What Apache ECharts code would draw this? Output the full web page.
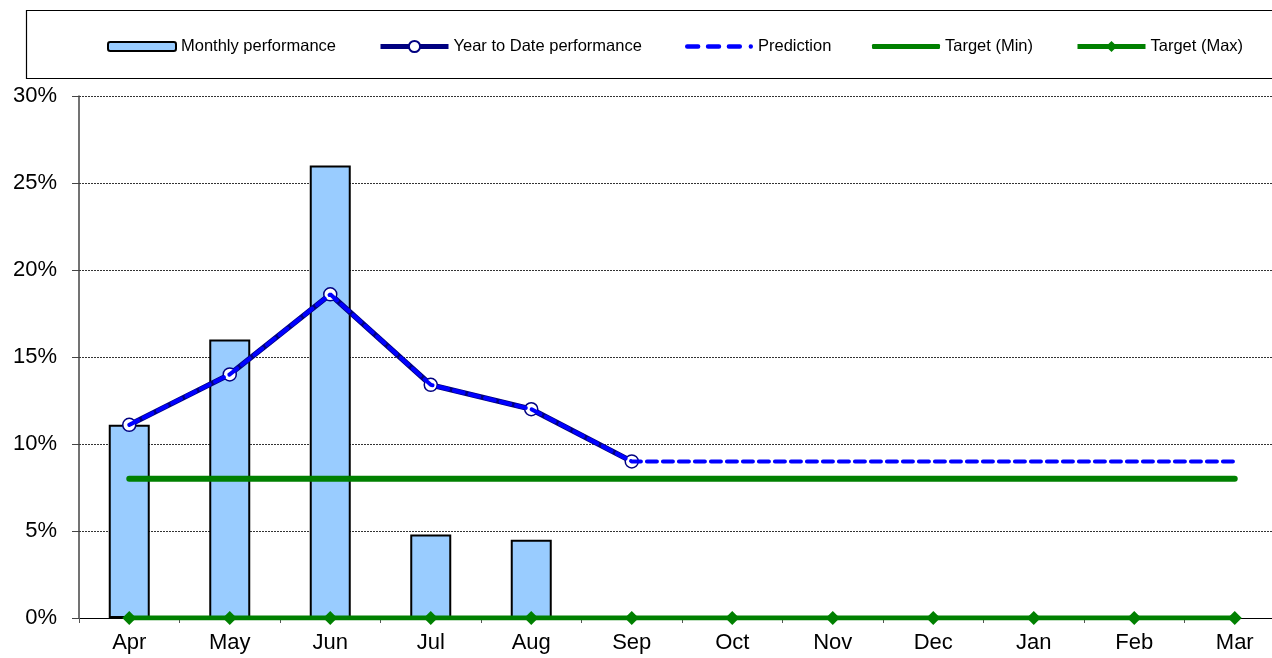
<!DOCTYPE html>
<html>
<head>
<meta charset="utf-8">
<script src="https://cdn.jsdelivr.net/npm/echarts@6/dist/echarts.min.js"></script>
<style>
  html, body { margin: 0; padding: 0; background: #fff; overflow: hidden; }
  /* the plot runs a little past the right edge of the window, as in the original */
  #chart { width: 1290px; height: 658px; }
</style>
</head>
<body>
<div id="chart"></div>
<script>
const months = ["Apr", "May", "Jun", "Jul", "Aug", "Sep", "Oct", "Nov", "Dec", "Jan", "Feb", "Mar"];
const monthly = [11.1, 16.0, 26.0, 4.8, 4.5, null, null, null, null, null, null, null];
const ytd = [11.1, 14.0, 18.6, 13.4, 12.0, 9.0, null, null, null, null, null, null];
const prediction = [11.1, 14.0, 18.6, 13.4, 12.0, 9.0, 9.0, 9.0, 9.0, 9.0, 9.0, 9.0];
const targetMin = [8, 8, 8, 8, 8, 8, 8, 8, 8, 8, 8, 8];
const targetMax = [0, 0, 0, 0, 0, 0, 0, 0, 0, 0, 0, 0];
const yTicks = [0, 5, 10, 15, 20, 25, 30];

const chart = echarts.init(document.getElementById("chart"));

const legendText = { fontFamily: "Liberation Sans, Arial", fontSize: 16.5, color: "#000" };
// one legend per item so each sits where the original puts it
const legendAt = (item, left, extra) => Object.assign({
  data: [item],
  left: left,
  top: 33,
  itemWidth: 68,
  itemHeight: 14,
  textStyle: legendText,
  selectedMode: false,
  lineStyle: { width: 5 }
}, extra || {});

// three dashes and a dot, like the original key
const dashIcon = "path://M2,0h10a2,2 0 0 1 0,4h-10a2,2 0 0 1 0,-4z" +
  "M21,0h10a2,2 0 0 1 0,4h-10a2,2 0 0 1 0,-4z" +
  "M40,0h10a2,2 0 0 1 0,4h-10a2,2 0 0 1 0,-4z" +
  "M60,0a2,2 0 0 1 0,4a2,2 0 0 1 0,-4z";

const option = {
  animation: false,
  backgroundColor: "#fff",
  graphic: [
    {
      type: "rect",
      shape: { x: 26.5, y: 10.5, width: 1300, height: 68 },
      style: { fill: "none", stroke: "#000", lineWidth: 1.2 },
      z: -1
    }
  ],
  legend: [
    legendAt("Monthly performance", 102, { itemHeight: 9 }),
    legendAt("Year to Date performance", 373),
    legendAt({ name: "Prediction", icon: dashIcon }, 680, { itemHeight: 5 }),
    legendAt({ name: "Target (Min)", icon: "roundRect" }, 867, { itemHeight: 5 }),
    legendAt("Target (Max)", 1070)
  ],
  grid: { left: 79, right: 5, top: 96, bottom: 40 },
  xAxis: {
    type: "category",
    data: months,
    boundaryGap: true,
    axisLine: { lineStyle: { color: "#000", width: 1 } },
    axisTick: { show: true, length: 5, lineStyle: { color: "#555" } },
    axisLabel: { fontFamily: "Liberation Sans, Arial", fontSize: 22, color: "#000", margin: 14 }
  },
  yAxis: {
    type: "value",
    min: yTicks[0],
    max: yTicks[yTicks.length - 1],
    interval: 5,
    axisLine: { show: true, lineStyle: { color: "#444", width: 1.5 } },
    axisTick: { show: true, length: 7, lineStyle: { color: "#444" } },
    axisLabel: {
      fontFamily: "Liberation Sans, Arial",
      fontSize: 22,
      color: "#000",
      margin: 22,
      formatter: v => v + "%"
    },
    splitLine: { show: true, lineStyle: { color: "#333", type: [2, 1], width: 1 } }
  },
  series: [
    {
      name: "Monthly performance",
      type: "bar",
      data: monthly,
      barWidth: 41,
      itemStyle: { color: "#99CCFF", borderColor: "#000", borderWidth: 2 },
      z: 1
    },
    {
      name: "Target (Min)",
      type: "line",
      data: targetMin,
      showSymbol: false,
      symbol: "none",
      lineStyle: { color: "#008000", width: 6, cap: "round" },
      itemStyle: { color: "#008000" },
      z: 3
    },
    {
      name: "Target (Max)",
      type: "line",
      data: targetMax,
      symbol: "diamond",
      symbolSize: 14,
      lineStyle: { color: "#008000", width: 5 },
      itemStyle: { color: "#008000" },
      z: 3
    },
    {
      name: "Year to Date performance",
      type: "line",
      data: ytd,
      symbol: "circle",
      symbolSize: 13,
      lineStyle: { color: "#000080", width: 5.5 },
      itemStyle: { color: "#fff", borderColor: "#000080", borderWidth: 1.5 },
      z: 4
    },
    {
      name: "Prediction",
      type: "line",
      data: prediction,
      showSymbol: false,
      symbol: "none",
      lineStyle: { color: "#0000FF", width: 4, type: [10, 6], cap: "round" },
      itemStyle: { color: "#0000FF" },
      z: 5
    }
  ]
};

chart.setOption(option);
</script>
</body>
</html>
